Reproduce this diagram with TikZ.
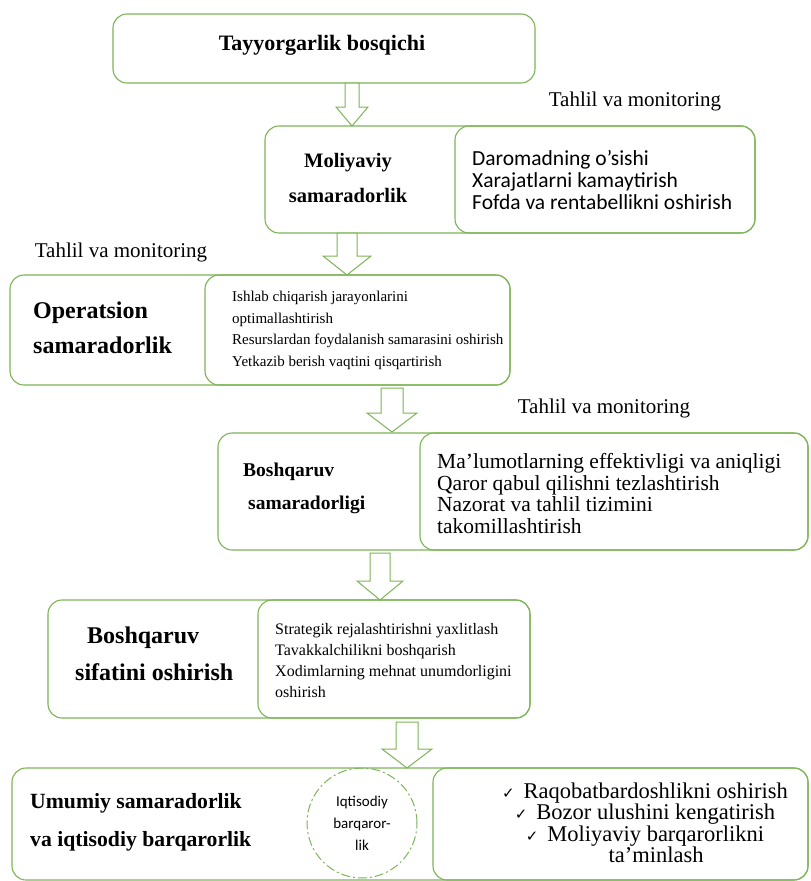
\documentclass[tikz,border=0pt]{standalone}
\usepackage{fontspec}
\setmainfont{Liberation Serif}
\newfontfamily\calibrifont{Carlito}
\newfontfamily\checkfont{DejaVu Sans}
\usepackage{tikz}
\usetikzlibrary{positioning}
\definecolor{boxgreen}{RGB}{124,180,86}

\newcommand{\chk}{{\checkfont\fontsize{15}{15}\selectfont ✓}\hspace{9pt}}

\tikzset{
  box/.style={draw=boxgreen, line width=1.1pt, rounded corners=14pt},
  blockarrow/.style={draw=boxgreen, line width=1pt, fill=white, line join=miter},
  headtxt/.style 2 args={font=\bfseries\fontsize{#1}{#2}\selectfont, inner sep=0pt, align=left},
  listtxt/.style 2 args={font=\fontsize{#1}{#2}\selectfont, inner sep=0pt, align=left},
  tahlil/.style={font=\fontsize{21}{21}\selectfont, inner sep=0pt},
}

\begin{document}
\begin{tikzpicture}[x=1pt, y=-1pt]
        \useasboundingbox (0,0) rectangle (811,881);

        % boxes
        \node[box, minimum width=422pt, minimum height=69pt] (A1) at (324,48.5) {};
        \node[box, minimum width=490pt, minimum height=107pt] (B1) at (510,179.5) {};
        \node[box, minimum width=300pt, minimum height=107pt] (B2) at (605,179.5) {};
        \node[box, minimum width=500pt, minimum height=110pt] (C1) at (260,330) {};
        \node[box, minimum width=305pt, minimum height=110pt] (C2) at (357.5,330) {};
        \node[box, minimum width=590pt, minimum height=117pt] (D1) at (513,491.5) {};
        \node[box, minimum width=388pt, minimum height=117pt] (D2) at (614,491.5) {};
        \node[box, minimum width=482pt, minimum height=118pt] (E1) at (289,659) {};
        \node[box, minimum width=272pt, minimum height=118pt] (E2) at (394,659) {};
        \node[box, minimum width=796pt, minimum height=112pt] (F1) at (410,824) {};
        \node[box, minimum width=375pt, minimum height=112pt] (F2) at (620.5,824) {};
        \node[draw=boxgreen, line width=1pt, dash pattern=on 9pt off 3pt on 2pt off 3pt,
              circle, minimum size=110pt, inner sep=0pt,
              align=center, font=\calibrifont\fontsize{15}{22}\selectfont] (F3) at (362,823)
              {Iqtisodiy\\barqaror-\\lik};

        % block arrows
        \foreach \x/\ya/\yb/\s/\h in {352/83/126/7/16, 347/233/275/10/24, 392/388/432/11/25,
                                      380/553/600/10/23, 407/722/768/11/25}
          \draw[blockarrow] (\x-\s,\ya) -- (\x+\s,\ya) -- (\x+\s,\yb-19) -- (\x+\h,\yb-19)
                -- (\x,\yb) -- (\x-\h,\yb-19) -- (\x-\s,\yb-19) -- cycle;

        % texts
        \node[headtxt={22}{22}] (A1t) at (322,45) {Tayyorgarlik bosqichi};
        \node[tahlil] (T1) at (635,101) {Tahlil va monitoring};
        \node[tahlil] (T2) at (121,252) {Tahlil va monitoring};
        \node[tahlil] (T3) at (604,408) {Tahlil va monitoring};

        \node[headtxt={20.5}{35}, align=center] (B1t) at (348,177.5) {Moliyaviy\\samaradorlik};
        \node[anchor=west, align=left, inner sep=0pt, font=\calibrifont\fontsize{21.5}{22}\selectfont] (B2t) at (472,180)
              {Daromadning o’sishi\\Xarajatlarni kamaytirish\\Fofda va rentabellikni oshirish};

        \node[headtxt={24}{35}, anchor=west] (C1t) at (33,327.5) {Operatsion\\samaradorlik};
        \node[listtxt={15}{21.7}, anchor=west] (C2t) at (232,330.5)
              {Ishlab chiqarish jarayonlarini\\optimallashtirish\\Resurslardan foydalanish samarasini oshirish\\Yetkazib berish vaqtini qisqartirish};

        \node[headtxt={19.5}{33}, anchor=west] (D1t) at (243,488.5) {Boshqaruv\\\hspace*{5pt}samaradorligi};
        \node[listtxt={21.5}{21.5}, anchor=west] (D2t) at (437,493.5)
              {Ma’lumotlarning effektivligi va aniqligi\\Qaror qabul qilishni tezlashtirish\\Nazorat va tahlil tizimini\\takomillashtirish};

        \node[headtxt={24}{37}, anchor=west] (E1t) at (75,653.5) {\hspace*{12pt}Boshqaruv\\sifatini oshirish};
        \node[listtxt={16}{21}, anchor=west] (E2t) at (275,661)
              {Strategik rejalashtirishni yaxlitlash\\Tavakkalchilikni boshqarish\\Xodimlarning mehnat unumdorligini\\oshirish};

        \node[headtxt={21.7}{38}, anchor=west] (F1t) at (30,822) {Umumiy samaradorlik\\va iqtisodiy barqarorlik};
        \node[listtxt={22.5}{21.5}, align=center] (F2t) at (645,823)
              {\chk Raqobatbardoshlikni oshirish\\
               \chk Bozor ulushini kengatirish\\
               \chk Moliyaviy barqarorlikni\\
               \hspace*{22pt}ta’minlash};
    \end{tikzpicture}
\end{document}
